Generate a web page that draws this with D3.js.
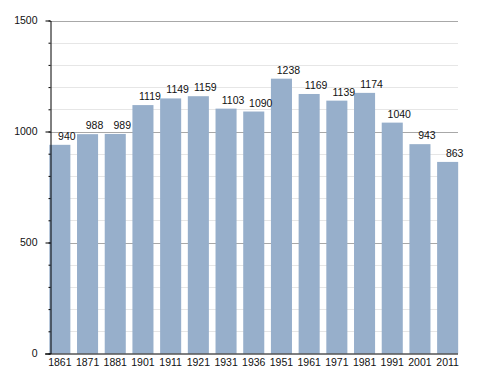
<!DOCTYPE html>
<html>
<head>
<meta charset="utf-8">
<script src="https://cdn.jsdelivr.net/npm/d3@7"></script>
<style>
  body { margin: 0; background: #fff; }
  text { font-family: "Liberation Sans", Arial, sans-serif; }
</style>
</head>
<body>
<svg id="chart" width="488" height="373"></svg>
<script>
const years = ["1861", "1871", "1881", "1901", "1911", "1921", "1931", "1936",
               "1951", "1961", "1971", "1981", "1991", "2001", "2011"];
const population = [940, 988, 989, 1119, 1149, 1159, 1103, 1090,
                    1238, 1169, 1139, 1174, 1040, 943, 863];
const majorTicks = [0, 500, 1000, 1500];
const minorTicks = d3.range(0, 1501, 100);

const svg = d3.select("#chart");
const plotLeft = 50, plotRight = 458, plotTop = 20.5, plotBottom = 353.5;

const x = d3.scaleBand()
  .domain(years)
  .range([46, 461.5])
  .paddingInner(0.24)
  .paddingOuter(0.12);

const y = d3.scaleLinear()
  .domain([0, 1500])
  .range([plotBottom, plotTop]);

// minor grid lines
svg.append("g")
  .selectAll("line")
  .data(minorTicks.filter(d => !majorTicks.includes(d)))
  .join("line")
    .attr("x1", plotLeft)
    .attr("x2", plotRight)
    .attr("y1", d => Math.round(y(d)) + 0.5)
    .attr("y2", d => Math.round(y(d)) + 0.5)
    .attr("stroke", "#e6e6e6");

// major grid lines
svg.append("g")
  .selectAll("line")
  .data(majorTicks.filter(d => d > 0))
  .join("line")
    .attr("x1", plotLeft)
    .attr("x2", plotRight)
    .attr("y1", d => Math.round(y(d)) + 0.5)
    .attr("y2", d => Math.round(y(d)) + 0.5)
    .attr("stroke", "#a8a8a8");

// bars
svg.append("g")
  .selectAll("rect")
  .data(population)
  .join("rect")
    .attr("x", (d, i) => x(years[i]))
    .attr("y", d => y(d))
    .attr("width", x.bandwidth())
    .attr("height", d => plotBottom - y(d))
    .attr("fill", "#97afcb");

// value labels
svg.append("g")
  .selectAll("text")
  .data(population)
  .join("text")
    .attr("x", (d, i) => x(years[i]) + x.bandwidth() / 2 + 7)
    .attr("y", d => y(d) - 5)
    .attr("text-anchor", "middle")
    .style("font-size", "10.5px")
    .attr("fill", "#111")
    .text(d => d);

// y axis: minor ticks
svg.append("g")
  .attr("transform", `translate(${plotLeft + 0.5},0)`)
  .call(d3.axisLeft(y).tickValues(minorTicks).tickSize(2).tickFormat(""))
  .call(g => g.select(".domain").remove())
  .call(g => g.selectAll(".tick line").attr("stroke", "#000"));

// y axis: major ticks and labels
svg.append("g")
  .attr("transform", `translate(${plotLeft + 0.5},0)`)
  .call(d3.axisLeft(y).tickValues(majorTicks).tickFormat(d3.format("d"))
    .tickSize(5).tickPadding(8).tickSizeOuter(0))
  .call(g => g.select(".domain").attr("stroke", "#000"))
  .call(g => g.selectAll(".tick line").attr("stroke", "#000"))
  .call(g => g.selectAll(".tick text")
    .style("font-size", "10.5px")
    .style("font-family", "'Liberation Sans', Arial, sans-serif")
    .attr("fill", "#111"));

// x axis
svg.append("g")
  .attr("transform", `translate(0,${plotBottom})`)
  .call(d3.axisBottom(x).tickSize(0).tickPadding(5))
  .call(g => g.select(".domain")
    .attr("d", `M45,0.5H${plotRight}`)
    .attr("stroke", "#000"))
  .call(g => g.selectAll(".tick text")
    .style("font-size", "10.5px")
    .style("font-family", "'Liberation Sans', Arial, sans-serif")
    .attr("fill", "#111"));
</script>
</body>
</html>
